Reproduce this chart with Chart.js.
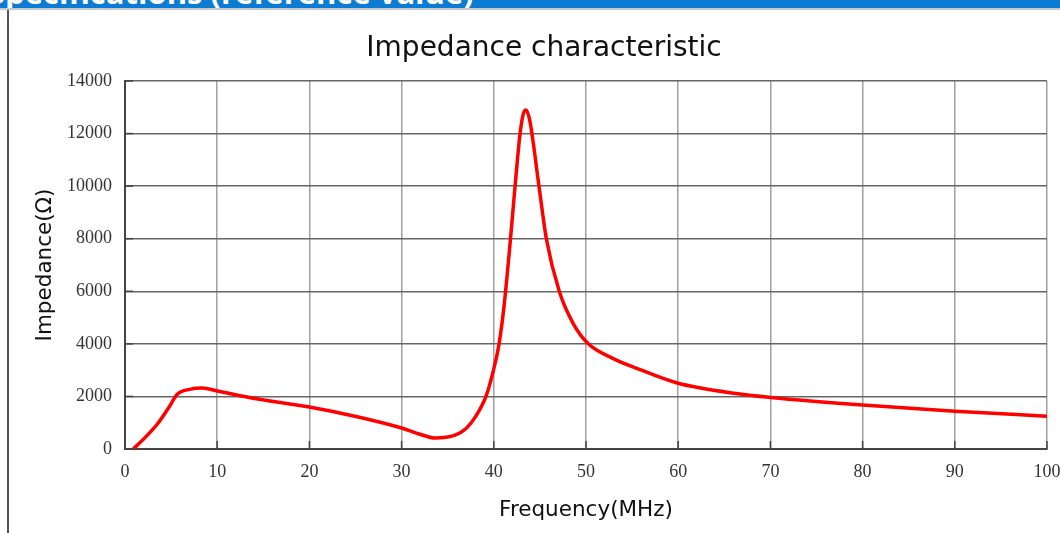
<!DOCTYPE html>
<html>
<head>
<meta charset="utf-8">
<script src="https://cdn.jsdelivr.net/npm/chart.js@4.4.0/dist/chart.umd.min.js"></script>
<style>
  html, body { margin: 0; padding: 0; background: #fff; overflow: hidden; }
  #wrap { position: relative; width: 1060px; height: 533px; }
  #bar { position: absolute; left: 0; top: 0; width: 1060px; height: 8px; background: #0b7bd3; overflow: hidden; }
  #bar span { position: absolute; left: -12px; top: -29px; color: #fff; font: bold 31px "Open Sans", sans-serif; white-space: nowrap; }
  #hline { position: absolute; left: 0; top: 8px; width: 1060px; height: 2px; background: #c8c8c8; }
  #vline { position: absolute; left: 7px; top: 10px; width: 2px; height: 523px; background: #555; }
  canvas { position: absolute; left: 0; top: 0; }
</style>
</head>
<body>
<div id="wrap">
  <div id="bar"><span>Specifications (reference value)</span></div>
  <div id="hline"></div>
  <div id="vline"></div>
  <canvas id="c" width="1060" height="533"></canvas>
</div>
<script>
const chartTitle = "Impedance characteristic";
const xTitle = "Frequency(MHz)";
const yTitle = "Impedance(Ω)";
const freq = [0.9, 2.3, 3.6, 4.7, 5.7, 7, 8.4, 10, 14.4, 20, 25.3, 30, 32, 33.6, 35.8, 37, 38, 39.15, 40, 40.57, 41.1, 41.8, 42.3, 42.85, 43.2, 43.5, 43.9, 44.9, 45.7, 47.1, 48.6, 50.25, 52.9, 55.5, 59.9, 66.7, 70, 80, 90, 100];
const impedance = [0, 480, 990, 1550, 2090, 2270, 2320, 2210, 1900, 1600, 1220, 800, 560, 420, 530, 780, 1220, 2000, 3050, 4000, 5400, 7950, 9970, 12000, 12750, 12900, 12500, 10000, 8000, 6000, 4780, 4000, 3450, 3070, 2510, 2090, 1960, 1670, 1440, 1250];
const xMin = 0, xMax = 100, xStep = 10;
const yMin = 0, yMax = 14000, yStep = 2000;

const points = freq.map((f, i) => ({x: f, y: impedance[i]}));

const inwardTicks = {
  id: 'inwardTicks',
  afterDatasetsDraw(chart) {
    const {ctx, chartArea, scales} = chart;
    ctx.save();
    ctx.strokeStyle = '#444';
    ctx.lineWidth = 1.5;
    scales.x.ticks.forEach(t => {
      const px = scales.x.getPixelForValue(t.value);
      ctx.beginPath(); ctx.moveTo(px, chartArea.bottom); ctx.lineTo(px, chartArea.bottom - 8); ctx.stroke();
    });
    scales.y.ticks.forEach(t => {
      const py = scales.y.getPixelForValue(t.value);
      ctx.beginPath(); ctx.moveTo(chartArea.left, py); ctx.lineTo(chartArea.left + 8, py); ctx.stroke();
    });
    ctx.restore();
  }
};

new Chart(document.getElementById('c'), {
  type: 'line',
  data: { datasets: [{ data: points, borderColor: '#ff0000', borderWidth: 3.5, pointRadius: 0, fill: false, cubicInterpolationMode: 'monotone' }] },
  options: {
    responsive: false, animation: false,
    layout: { padding: { left: 41, right: 13, top: 0, bottom: 0 } },
    plugins: {
      legend: { display: false }, tooltip: { enabled: false },
      title: { display: true, text: chartTitle, color: '#111', font: { family: 'DejaVu Sans', size: 28, weight: 'normal' }, padding: { top: 32, bottom: 15.4 } }
    },
    scales: {
      x: {
        type: 'linear', min: xMin, max: xMax,
        ticks: { stepSize: xStep, color: '#333', font: { family: 'Liberation Serif', size: 18 }, padding: 12, maxRotation: 0, callback: v => String(v) },
        grid: { color: '#a0a0a0', lineWidth: 1.5, drawTicks: false },
        border: { color: '#444', width: 2 },
        title: { display: true, text: xTitle, color: '#111', font: { family: 'DejaVu Sans', size: 21.5 }, padding: { top: 4, bottom: 10 } },
        afterFit(s) { s.paddingLeft = 0; s.paddingRight = 0; s.height = 84; }
      },
      y: {
        min: yMin, max: yMax,
        ticks: { stepSize: yStep, color: '#333', font: { family: 'Liberation Serif', size: 18 }, padding: 13, callback: v => String(v) },
        grid: { color: '#666', lineWidth: 1.5, drawTicks: false },
        border: { color: '#444', width: 2 },
        title: { display: true, text: yTitle, color: '#111', font: { family: 'DejaVu Sans', size: 21.5 }, padding: { top: -8, bottom: 0 } },
        afterFit(s) { s.width = 84; s.paddingTop = 0; s.paddingBottom = 0; }
      }
    }
  },
  plugins: [inwardTicks]
});
</script>
</body>
</html>
